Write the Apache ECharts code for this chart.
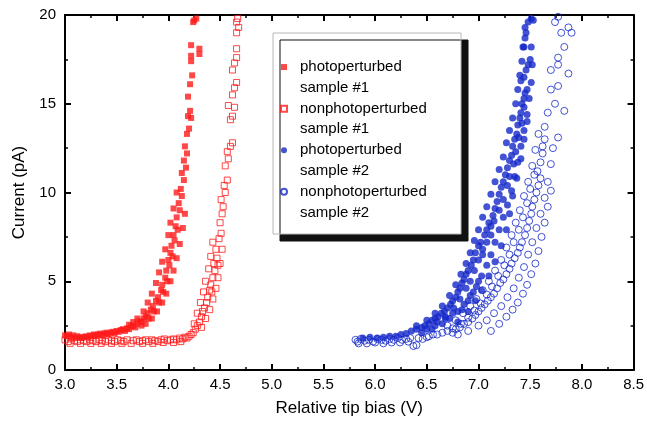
<!DOCTYPE html>
<html>
<head>
<meta charset="utf-8">
<script src="https://cdn.jsdelivr.net/npm/echarts@6/dist/echarts.min.js"></script>
<style>
  html, body { margin: 0; padding: 0; background: #fff; }
  #chart { width: 647px; height: 428px; }
</style>
</head>
<body>
<div id="chart"></div>
<script>
// [bias V, current pA]
var photo1 = [
  [3.00, 1.95], [3.02, 1.9], [3.04, 2.0], [3.06, 1.85], [3.08, 1.95], [3.10, 1.8], [3.12, 1.9],
  [3.14, 1.85], [3.16, 1.8], [3.18, 1.85], [3.20, 1.9], [3.22, 1.85], [3.24, 1.95], [3.26, 1.9],
  [3.28, 2.0], [3.30, 1.95], [3.32, 2.0], [3.34, 2.05], [3.36, 1.95], [3.38, 2.05], [3.40, 2.1],
  [3.42, 2.0], [3.44, 2.1], [3.46, 2.15], [3.48, 2.05], [3.50, 2.2], [3.52, 2.15], [3.54, 2.25],
  [3.56, 2.3], [3.58, 2.2], [3.60, 2.35], [3.62, 2.3], [3.64, 2.45], [3.66, 2.5], [3.68, 2.4],
  [3.70, 2.6], [3.72, 2.75], [3.74, 2.7], [3.76, 2.9], [3.78, 3.0], [3.80, 3.2], [3.81, 2.9],
  [3.83, 3.4], [3.85, 3.6], [3.86, 3.3], [3.88, 3.9], [3.90, 4.1], [3.91, 3.8], [3.93, 4.5],
  [3.94, 4.8], [3.95, 4.4], [3.97, 5.2], [3.98, 5.6], [3.99, 5.0], [4.00, 6.2], [4.01, 5.9],
  [4.02, 6.6], [4.03, 7.0], [4.04, 6.4], [4.05, 7.6], [4.06, 7.3], [4.07, 8.1], [4.08, 8.6],
  [4.09, 7.9], [4.10, 9.4], [4.11, 9.0], [4.12, 10.2], [4.13, 9.8], [4.13, 11.1], [4.15, 10.7],
  [4.15, 11.8], [4.17, 11.4], [4.16, 12.6], [4.18, 12.2], [4.18, 13.3], [4.20, 13.6], [4.19, 14.3],
  [4.21, 14.6], [4.22, 14.2], [4.19, 15.4], [4.21, 16.1], [4.23, 16.6], [4.22, 17.4], [4.22, 17.7],
  [4.22, 18.3], [4.30, 18.1], [4.30, 17.8], [4.24, 19.6], [4.27, 19.8], [4.25, 19.7],
  [3.62, 2.55], [3.66, 2.7], [3.70, 2.9], [3.76, 3.3], [3.80, 3.8], [3.84, 4.3], [3.88, 4.9],
  [3.91, 5.5], [3.94, 6.1], [3.97, 6.8], [4.00, 7.6], [4.02, 8.3], [4.05, 9.1], [4.08, 10.0],
  [3.74, 2.5], [3.78, 2.6], [3.84, 2.9], [3.89, 3.3], [3.94, 3.8], [3.98, 4.3], [4.02, 5.0],
  [4.05, 5.6], [4.08, 6.3], [4.11, 7.1], [4.14, 8.0], [4.16, 8.8]
];
var nonphoto1 = [
  [3.00, 1.7], [3.03, 1.6], [3.06, 1.75], [3.09, 1.65], [3.12, 1.6], [3.15, 1.7], [3.18, 1.65],
  [3.21, 1.6], [3.24, 1.7], [3.27, 1.65], [3.30, 1.6], [3.33, 1.7], [3.36, 1.65], [3.39, 1.6],
  [3.42, 1.7], [3.45, 1.65], [3.48, 1.6], [3.51, 1.7], [3.54, 1.65], [3.57, 1.6], [3.60, 1.7],
  [3.64, 1.5], [3.66, 1.65], [3.69, 1.7], [3.72, 1.6], [3.75, 1.65], [3.78, 1.7], [3.81, 1.6],
  [3.84, 1.7], [3.87, 1.65], [3.90, 1.6], [3.93, 1.7], [3.96, 1.75], [3.99, 1.65], [4.02, 1.7],
  [4.05, 1.75], [4.08, 1.7], [4.11, 1.8], [4.14, 1.75], [4.16, 1.85], [4.18, 1.8], [4.20, 1.9],
  [4.22, 2.0], [4.24, 2.1], [4.26, 2.3], [4.28, 2.5], [4.30, 2.7], [4.32, 3.0], [4.33, 3.3],
  [4.35, 3.5], [4.37, 3.8], [4.38, 4.1], [4.40, 4.5], [4.41, 4.8], [4.42, 4.4], [4.43, 5.2],
  [4.45, 5.6], [4.44, 6.0], [4.47, 6.3], [4.48, 5.9], [4.46, 6.8], [4.49, 7.4], [4.51, 7.7],
  [4.50, 8.3], [4.52, 8.8], [4.53, 9.2], [4.51, 9.6], [4.55, 10.0], [4.54, 10.4], [4.57, 10.7],
  [4.55, 11.5], [4.58, 11.9], [4.57, 12.3], [4.60, 12.6], [4.62, 12.8], [4.60, 14.1], [4.62, 14.3],
  [4.58, 14.9], [4.64, 14.8], [4.62, 15.5], [4.64, 15.9], [4.66, 16.2], [4.62, 16.9], [4.64, 17.3],
  [4.66, 17.6], [4.66, 18.1], [4.66, 19.0], [4.68, 19.3], [4.66, 19.6], [4.67, 19.8],
  [3.05, 1.5], [3.15, 1.5], [3.25, 1.5], [3.35, 1.5], [3.45, 1.5], [3.55, 1.5], [3.75, 1.5],
  [3.85, 1.5], [3.95, 1.55], [4.05, 1.55], [4.12, 1.6],
  [4.25, 2.6], [4.28, 3.2], [4.31, 3.8], [4.34, 4.4], [4.36, 5.0], [4.39, 5.7], [4.41, 6.4],
  [4.43, 7.2], [4.32, 2.4], [4.36, 2.9], [4.40, 3.4], [4.43, 4.0], [4.46, 4.6], [4.48, 5.2],
  [4.50, 6.0], [4.52, 6.8]
];
var photo2 = [
  [5.88, 1.8], [5.95, 1.85], [6.02, 1.8], [6.08, 1.85], [6.14, 1.9], [6.20, 1.9], [6.25, 2.0],
  [6.30, 2.05], [6.35, 2.2], [6.40, 2.3], [6.45, 2.4], [6.48, 2.5], [6.52, 2.6], [6.55, 2.8],
  [6.58, 2.9], [6.61, 3.0], [6.64, 3.2], [6.67, 3.3], [6.70, 3.5], [6.73, 3.7], [6.75, 3.9],
  [6.78, 4.1], [6.80, 4.4], [6.82, 4.6], [6.84, 4.9], [6.86, 5.1], [6.88, 5.4], [6.90, 5.6],
  [6.93, 5.9], [6.95, 6.2], [6.97, 6.6], [7.00, 7.0], [7.02, 7.2], [7.04, 6.8], [7.06, 7.6],
  [7.08, 7.9], [7.10, 8.3], [7.12, 8.1], [7.14, 8.7], [7.16, 9.1], [7.18, 9.5], [7.20, 9.9],
  [7.22, 10.3], [7.24, 10.6], [7.26, 11.0], [7.28, 11.4], [7.30, 11.8], [7.32, 12.1], [7.33, 12.6],
  [7.35, 13.0], [7.37, 13.3], [7.38, 13.8], [7.40, 14.2], [7.41, 14.5], [7.42, 15.0], [7.44, 15.3],
  [7.45, 15.6], [7.41, 16.3], [7.44, 16.5], [7.46, 16.9], [7.48, 17.2], [7.50, 17.5], [7.44, 18.2],
  [7.45, 18.7], [7.46, 19.0], [7.48, 19.6], [7.51, 19.8], [7.53, 19.7],
  [6.50, 2.3], [6.60, 2.7], [6.68, 3.0], [6.76, 3.5], [6.82, 4.0], [6.88, 4.6], [6.92, 5.0],
  [6.96, 5.6], [7.00, 6.2], [7.04, 6.5], [7.08, 7.2], [7.12, 7.6], [7.15, 8.4], [7.20, 9.0],
  [7.24, 9.6], [7.28, 10.4], [7.30, 10.9], [7.34, 11.6], [7.36, 12.3], [7.39, 13.1], [7.42, 13.9],
  [7.44, 14.8], [7.47, 15.8],
  [6.40, 2.5], [6.50, 2.8], [6.58, 3.2], [6.65, 3.6], [6.72, 4.2], [6.78, 4.8], [6.83, 5.4],
  [6.88, 6.0], [6.92, 6.6], [6.96, 7.3], [7.00, 7.9], [7.04, 8.6], [7.08, 9.2], [7.12, 9.9],
  [7.16, 10.6], [7.20, 11.3], [7.24, 12.0], [7.27, 12.8], [7.30, 13.5], [7.33, 14.2], [7.36, 15.0],
  [7.38, 15.8], [7.40, 16.6], [7.42, 17.4], [7.43, 18.2], [7.45, 19.3],
  [6.45, 2.1], [6.55, 2.3], [6.65, 2.6], [6.72, 2.9], [6.80, 3.3], [6.86, 3.7], [6.92, 4.2],
  [6.98, 4.7], [7.03, 5.3], [7.08, 5.9], [7.12, 6.5], [7.16, 7.2], [7.20, 7.9], [7.24, 8.6],
  [7.28, 9.3], [7.32, 10.1], [7.35, 10.9], [7.38, 11.7], [7.41, 12.6], [7.44, 13.5], [7.47, 14.4],
  [7.49, 15.3], [7.51, 16.2], [7.52, 17.2], [7.51, 18.2],
  [6.80, 2.7], [6.90, 3.3], [6.97, 3.9], [7.03, 4.5], [7.10, 5.3], [7.16, 6.1], [7.22, 7.0],
  [7.27, 7.9], [7.30, 8.8], [7.33, 9.8], [7.37, 10.8], [7.41, 11.9], [7.44, 13.0], [7.47, 14.0],
  [6.58, 2.5], [6.68, 2.9], [6.75, 3.2], [6.84, 3.4], [6.90, 3.9], [6.95, 4.4], [7.00, 5.0]
];
var nonphoto2 = [
  [5.81, 1.7], [5.83, 1.6], [5.86, 1.75], [5.90, 1.65], [5.94, 1.7], [5.98, 1.6], [6.02, 1.75],
  [6.06, 1.7], [6.10, 1.65], [6.14, 1.75], [6.18, 1.7], [6.22, 1.8], [6.26, 1.7], [6.30, 1.75],
  [6.34, 1.8], [6.37, 1.35], [6.40, 1.4], [6.42, 1.8], [6.46, 1.75], [6.50, 1.85],
  [5.84, 1.5], [5.92, 1.5], [6.00, 1.55], [6.08, 1.5], [6.16, 1.55], [6.24, 1.55], [6.32, 1.6],
  [6.52, 1.9], [6.56, 2.0], [6.60, 2.0], [6.65, 2.1], [6.70, 2.2], [6.75, 2.1], [6.78, 2.3],
  [6.82, 2.4], [6.86, 2.6], [6.90, 2.7], [6.94, 2.9], [6.97, 3.1], [7.00, 3.3], [7.03, 3.5],
  [7.06, 3.7], [7.09, 3.9], [7.12, 4.1], [7.15, 4.3], [7.18, 4.6], [7.21, 4.9], [7.24, 5.1],
  [7.27, 5.4], [7.30, 5.7], [7.32, 6.0], [7.35, 6.3], [7.38, 6.6], [7.40, 6.9], [7.42, 7.2],
  [7.45, 7.6], [7.47, 8.0], [7.49, 8.4], [7.51, 8.8], [7.52, 9.2], [7.54, 9.6], [7.56, 10.0],
  [7.58, 10.4], [7.60, 10.8], [7.57, 11.2], [7.60, 11.7], [7.62, 12.2], [7.62, 12.6], [7.64, 13.0],
  [7.64, 13.7], [7.77, 13.1], [7.67, 14.5], [7.83, 14.6], [7.74, 15.0], [7.70, 15.8], [7.77, 16.0],
  [7.70, 16.9], [7.87, 16.7], [7.77, 17.2], [7.77, 17.6], [7.83, 18.2], [7.80, 19.0], [7.90, 19.0],
  [7.87, 19.3], [7.74, 19.6], [7.77, 19.9],
  [6.70, 2.5], [6.78, 2.8], [6.85, 3.2], [6.92, 3.6], [6.98, 4.0], [7.04, 4.5], [7.10, 5.0],
  [7.16, 5.6], [7.22, 6.2], [7.27, 6.9], [7.32, 7.6], [7.36, 8.3], [7.40, 9.0], [7.44, 9.8],
  [7.48, 10.6], [7.52, 11.5], [7.55, 12.4], [7.58, 13.3],
  [6.80, 2.0], [6.90, 2.2], [7.00, 2.5], [7.08, 2.8], [7.15, 3.2], [7.22, 3.6], [7.28, 4.1],
  [7.34, 4.6], [7.39, 5.2], [7.44, 5.8], [7.48, 6.5], [7.52, 7.2], [7.56, 8.0], [7.60, 8.8],
  [7.64, 9.7], [7.67, 10.6], [7.70, 11.6], [7.72, 12.5],
  [7.12, 2.2], [7.20, 2.6], [7.27, 3.0], [7.33, 3.4], [7.38, 3.8], [7.43, 4.3], [7.47, 4.8],
  [7.51, 5.4], [7.55, 6.0], [7.58, 6.7], [7.61, 7.5], [7.64, 8.3], [7.67, 9.2], [7.70, 10.1],
  [6.75, 2.35], [6.83, 2.6], [6.90, 2.95], [6.96, 3.35], [7.02, 3.75], [7.08, 4.25], [7.13, 4.7],
  [7.19, 5.3], [7.25, 5.9], [7.30, 6.5], [7.34, 7.2], [7.39, 7.9], [7.43, 8.6], [7.47, 9.4],
  [7.50, 10.2], [7.54, 11.0]
];
var seriesNames = [
  'photoperturbed\nsample #1', 'nonphotoperturbed\nsample #1',
  'photoperturbed\nsample #2', 'nonphotoperturbed\nsample #2'
];

var RED = '#ff1a1a';
var BLUE = '#1428c8';
var FONT = 'Liberation Sans, Arial, sans-serif';

function mirrorAxis(type, pos) {
  return {
    type: 'value', position: pos,
    min: type === 'x' ? 3 : 0, max: type === 'x' ? 8.5 : 20, interval: type === 'x' ? 0.5 : 5,
    axisLine: { show: true, onZero: false, lineStyle: { color: '#000', width: 2 } },
    axisTick: { show: true, inside: true, length: 6, lineStyle: { color: '#000', width: 2 } },
    minorTick: { show: true, splitNumber: 2, length: 3, lineStyle: { color: '#000', width: 1.5 } },
    axisLabel: { show: false },
    splitLine: { show: false }
  };
}

var chart = echarts.init(document.getElementById('chart'));
chart.setOption({
  animation: false,
  backgroundColor: '#fff',
  grid: { left: 65, right: 11, top: 15, bottom: 58 },
  legend: {
    orient: 'vertical',
    left: 280, top: 36,
    padding: 0,
    itemGap: -20.5,
    itemWidth: 6, itemHeight: 6,
    selectedMode: false,
    formatter: function (name) { return '\n' + name; },
    textStyle: { color: '#000', fontSize: 15, fontFamily: FONT, lineHeight: 20.7, padding: [0, 0, 0, 8] },
    data: seriesNames
  },
  graphic: [{
    type: 'rect', z: 3,
    shape: { x: 273, y: 33, width: 188, height: 201 },
    style: { fill: '#fff', stroke: '#b8b8b8', lineWidth: 1, shadowColor: '#111', shadowBlur: 0, shadowOffsetX: 7, shadowOffsetY: 7 }
  }],
  xAxis: [Object.assign(mirrorAxis('x', 'bottom'), {
    name: 'Relative tip bias (V)', nameLocation: 'middle', nameGap: 30,
    nameTextStyle: { color: '#000', fontSize: 17, fontFamily: FONT },
    axisLabel: { show: true, color: '#000', fontSize: 15, fontFamily: FONT, margin: 7,
      formatter: function (v) { return v.toFixed(1); } }
  }), mirrorAxis('x', 'top')],
  yAxis: [Object.assign(mirrorAxis('y', 'left'), {
    name: 'Current (pA)', nameLocation: 'middle', nameGap: 37,
    nameTextStyle: { color: '#000', fontSize: 17, fontFamily: FONT },
    axisLabel: { show: true, color: '#000', fontSize: 15, fontFamily: FONT, margin: 9 }
  }), mirrorAxis('y', 'right')],
  series: [
    { name: seriesNames[0], type: 'scatter', symbol: 'rect', symbolSize: 6,
      itemStyle: { color: RED }, data: photo1 },
    { name: seriesNames[1], type: 'scatter', symbol: 'rect', symbolSize: 6,
      itemStyle: { color: 'rgba(255,255,255,0)', borderColor: RED, borderWidth: 1 }, data: nonphoto1 },
    { name: seriesNames[2], type: 'scatter', symbol: 'circle', symbolSize: 7,
      itemStyle: { color: BLUE }, data: photo2 },
    { name: seriesNames[3], type: 'scatter', symbol: 'circle', symbolSize: 7,
      itemStyle: { color: 'rgba(255,255,255,0)', borderColor: BLUE, borderWidth: 1 }, data: nonphoto2 }
  ]
});
</script>
</body>
</html>
